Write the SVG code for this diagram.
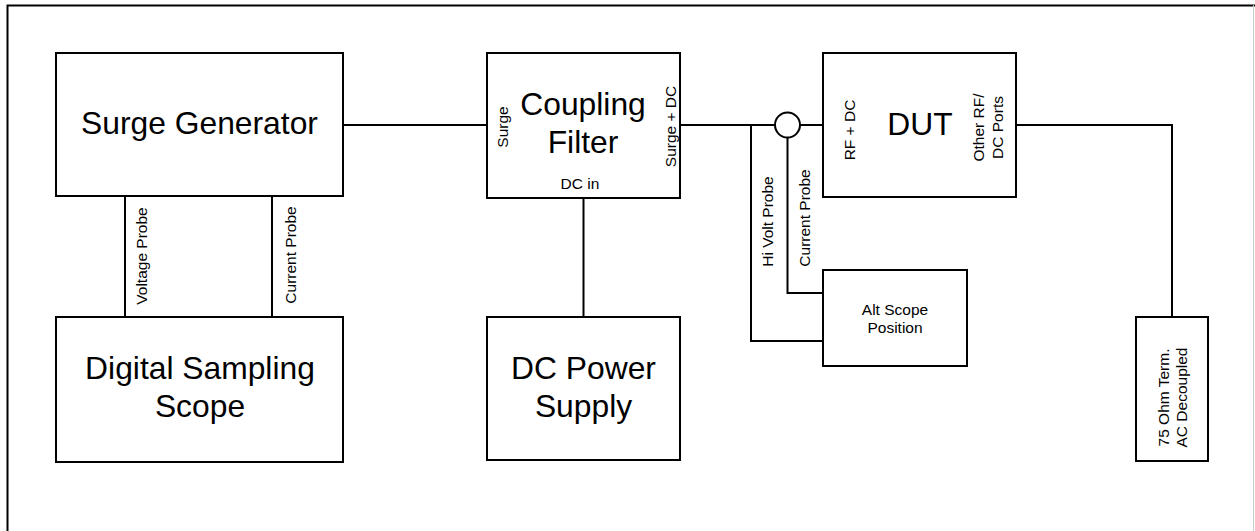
<svg xmlns="http://www.w3.org/2000/svg" width="1255" height="531" viewBox="0 0 1255 531">
<style>
.box{fill:#fff;stroke:#000;stroke-width:2}
.wire{fill:none;stroke:#000;stroke-width:2}
text{font-family:"Liberation Sans",Arial,sans-serif;fill:#000}
.big{font-size:31.8px;text-anchor:middle}
.sm{font-size:15.5px;text-anchor:middle}
</style>
<rect width="1255" height="531" fill="#fff"/>
<path d="M7.5,531 V5.5 H1255" fill="none" stroke="#000" stroke-width="2"/>
<line x1="1253.5" y1="5" x2="1253.5" y2="531" stroke="#c8c8c8" stroke-width="1"/>
<g id="connectors">
<path class="wire" d="M343,125 H487"/>
<path class="wire" d="M680,125 H775"/>
<path class="wire" d="M800,125 H823"/>
<path class="wire" d="M751,125 V341 H823"/>
<path class="wire" d="M787.5,137.5 V293 H823"/>
<path class="wire" d="M583.5,198 V317"/>
<path class="wire" d="M125,196 V317"/>
<path class="wire" d="M272,196 V317"/>
<path class="wire" d="M1016,125 H1172 V317"/>
<circle class="wire" cx="787.5" cy="125" r="12.5"/>
<text class="sm" transform="translate(147,256) rotate(-90)">Voltage Probe</text>
<text class="sm" transform="translate(296,255) rotate(-90)">Current Probe</text>
<text class="sm" transform="translate(773,221.5) rotate(-90)">Hi Volt Probe</text>
<text class="sm" transform="translate(809.5,218) rotate(-90)">Current Probe</text>
</g>
<g id="surge-generator">
<rect class="box" x="56" y="53" width="287" height="143"/>
<text class="big" x="199.5" y="134">Surge Generator</text>
</g>
<g id="coupling-filter">
<rect class="box" x="487" y="53" width="193" height="145"/>
<text class="big" x="583" y="115">Coupling</text>
<text class="big" x="583" y="153">Filter</text>
<text class="sm" transform="translate(508,127) rotate(-90)">Surge</text>
<text class="sm" transform="translate(676,126.5) rotate(-90)">Surge + DC</text>
<text class="sm" x="580" y="189">DC in</text>
</g>
<g id="dut">
<rect class="box" x="823" y="53" width="193" height="144"/>
<text class="big" x="920" y="135">DUT</text>
<text class="sm" transform="translate(855,130) rotate(-90)">RF + DC</text>
<text class="sm" transform="translate(984,127.5) rotate(-90)">Other RF/</text>
<text class="sm" transform="translate(1003,127.5) rotate(-90)">DC Ports</text>
</g>
<g id="digital-sampling-scope">
<rect class="box" x="56" y="317" width="287" height="145"/>
<text class="big" x="200" y="379">Digital Sampling</text>
<text class="big" x="200" y="417">Scope</text>
</g>
<g id="dc-power-supply">
<rect class="box" x="487" y="317" width="193" height="143"/>
<text class="big" x="583.5" y="379">DC Power</text>
<text class="big" x="583.5" y="417">Supply</text>
</g>
<g id="alt-scope">
<rect class="box" x="823" y="270" width="144" height="96"/>
<text class="sm" x="895" y="315">Alt Scope</text>
<text class="sm" x="895" y="333">Position</text>
</g>
<g id="term">
<rect class="box" x="1136" y="317" width="72" height="144"/>
<text class="sm" transform="translate(1169,397.5) rotate(-90)">75 Ohm Term.</text>
<text class="sm" transform="translate(1186.5,397.5) rotate(-90)">AC Decoupled</text>
</g>
</svg>
